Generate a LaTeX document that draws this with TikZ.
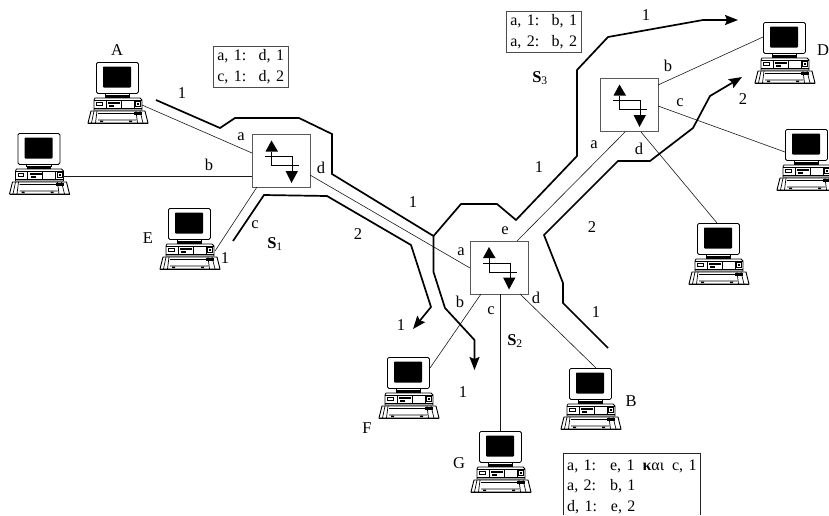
\documentclass[tikz,border=0pt]{standalone}
\usepackage{fontspec}
\setmainfont{Liberation Serif}
\usetikzlibrary{arrows.meta}
\tikzset{
  x=1pt,y=-1pt,
  lbl/.style={inner sep=0pt,font=\fontsize{16.5}{16.5}\selectfont},
  link/.style={line width=0.6pt,draw=black!90},
  route/.style={line width=1.7pt,line join=miter},
  routearrow/.style={route,-{Stealth[length=13pt,width=10pt,inset=2pt]}},
  switchbox/.style={draw=black!65,line width=0.9pt,fill=white,minimum width=58pt,minimum height=53pt,inner sep=0pt},
  tablebox/.style={draw=black!70,line width=0.7pt,inner sep=0pt,anchor=north west,align=left},
  tablefont/.style={font=\fontsize{16}{20.5}\selectfont},
  pics/computer/.style={code={
    % monitor
    \node[draw,line width=0.8pt,rounded corners=1.5pt,minimum width=42pt,minimum height=31pt,inner sep=0pt,anchor=north west] (-mon) at (0,0) {};
    \fill[rounded corners=0.8pt] (7,4.5) rectangle (35,25.5);
    % neck
    \draw[line width=0.6pt] (9,31) -- (9,33.5) -- (33.5,33.5) -- (33.5,31);
    \fill (9,34) rectangle (33.5,36);
    % base
    \draw[line width=0.8pt,fill=white] (-1,36) -- (44,36) -- (46,38) -- (46,48) -- (-2,48) -- (-2,38) -- cycle;
    \draw[line width=0.5pt] (-2,38.5) -- (46,38.5);
    \draw[line width=1pt] (-2,46.5) -- (46,46.5);
    \draw[line width=0.5pt] (10,38.5) -- (10,46.5) (25,38.5) -- (25,46.5) (38,38.5) -- (38,46.5);
    \draw[line width=0.5pt] (0.5,40.5) rectangle (6,43.5);
    \fill (12,39.8) rectangle (24,41.8);
    \fill (13,43) rectangle (18,44.5);
    \draw[line width=0.5pt] (39.5,39.5) rectangle (44.5,44.5);
    \fill (41,40.5) rectangle (43,43);
    % keyboard
    \draw[line width=0.9pt,fill=white] (-5,49) -- (49,49) -- (52,61) -- (-8,61) -- cycle;
    \draw[line width=1.6pt] (-8,61.4) -- (52,61.4);
    \draw[line width=0.7pt] (-2,49) -- (-4.5,61) (1,49) -- (-0.5,61) (2,51.5) -- (44,51.5) (2,58) -- (40,58) (44,49) -- (47,61) (40,49)--(41.5,61);
    \fill (38,49.5) rectangle (46,53);
    \fill (4,58.5) rectangle (7,60) (33,58.5) rectangle (36,60);
  }},
  pics/switchicon/.style={code={
    \fill (0,-13.5) -- (-6,-2.5) -- (6.5,-2.5) -- cycle;
    \fill (20,29) -- (14,17) -- (26.5,17) -- cycle;
    \draw[line width=0.7pt] (-6.5,2.5) -- (21,2.5) -- (21,17) (0,-2.5) -- (0,11.5) -- (27.5,11.5);
  }}
}
\begin{document}
\begin{tikzpicture}
\useasboundingbox (0,0) rectangle (829,515);
% computers
\pic (A) at (96,62) {computer};
\pic (L) at (17.5,133) {computer};
\pic (E) at (168,208) {computer};
\pic (F) at (387,357) {computer};
\pic (G) at (479,431) {computer};
\pic (B) at (569,368) {computer};
\pic (D) at (763,22) {computer};
\pic (R) at (785,129) {computer};
\pic (T) at (697,223) {computer};
% switches
\node[switchbox] (S1) at (281,160.5) {};
\node[switchbox] (S2) at (499,267.5) {};
\node[switchbox] (S3) at (629,105) {};
\pic at (271.5,154) {switchicon};
\pic at (489,260.5) {switchicon};
\pic at (619.5,98) {switchicon};
% named link ends
\coordinate (Aport) at (142,105);
\coordinate (Lport) at (63,176);
\coordinate (Eport) at (215,251);
\coordinate (Fport) at (430,368);
\coordinate (Bport) at (596,368);
\coordinate (Dport) at (763,37);
\coordinate (Rport) at (785,152);
\coordinate (Tport) at (717,223);
\coordinate (Gport) at (500,431);
\coordinate (S1a) at (252,153);
\coordinate (S1b) at (252,176);
\coordinate (S1c) at (257,187);
\coordinate (S1d) at (310,175);
\coordinate (S2a) at (470,268);
\coordinate (S2e) at (517,241);
\coordinate (S2b) at (481,294);
\coordinate (S2c) at (500,294);
\coordinate (S2d) at (520,294);
\coordinate (S3a) at (625,132);
\coordinate (S3b) at (658,85);
\coordinate (S3c) at (658,106);
\coordinate (S3d) at (641,132);
% links
\draw[link] (Aport) -- (S1a);
\draw[link] (Lport) -- (S1b);
\draw[link] (Eport) -- (S1c);
\draw[link] (S1d) -- (S2a);
\draw[link] (S2e) -- (S3a);
\draw[link] (S2b) -- (Fport);
\draw[link] (S2c) -- (Gport);
\draw[link] (S2d) -- (Bport);
\draw[link] (S3b) -- (Dport);
\draw[link] (S3c) -- (Rport);
\draw[link] (S3d) -- (Tport);
% routes
\draw[routearrow] (156,100) -- (220,128) -- (235,118) -- (299,118) -- (332,134) -- (332,174) -- (433.5,236) -- (433.5,272) -- (445,308) -- (474.5,340) -- (474.5,370);
\draw[routearrow] (433.5,236) -- (461,204) -- (497,204) -- (516,220) -- (577,156) -- (577,70) -- (608,37) -- (703,20) -- (738,20);
\draw[routearrow] (233,241) -- (264,195) -- (327,196) -- (411,245) -- (431,307) -- (413,329);
\draw[routearrow] (608,348) -- (563,303) -- (563,283) -- (544,235) -- (618,161) -- (650,161) -- (693,128) -- (710,96) -- (742,77);
% labels
\foreach \t/\px/\py/\n in {A/117/50/lA,1/182/93/l1a,a/241/137/la1,b/209/165/lb1,c/255/225/lc1,d/321/168/ld1,E/148/238/lE,1/225/258/l1b,1/413/202/l1c,2/358/234/l2a,1/401/325/l1d,a/461/252/la2,e/505/231/le2,b/460/302/lb2,c/491/311/lc2,d/536/298/ld2,1/463/392/l1e,F/367/428/lF,G/459/463/lG,B/631/401/lB,1/646/15/l1f,1/539/167/l1g,a/594/145/la3,d/639/149/ld3,b/668/66/lb3,c/680/103/lc3,2/743/99/l2b,2/592/227/l2c,D/823/50/lD,1/596/312/l1h}
  \node[lbl] (\n) at (\px,\py) {\t};
\node[lbl] (s1) at (275,244) {\textbf{S}$_{\mathrm{1}}$};
\node[lbl] (s2) at (515,341) {\textbf{S}$_{\mathrm{2}}$};
\node[lbl] (s3) at (540,78) {\textbf{S}$_{\mathrm{3}}$};
% tables
\node[tablebox,tablefont,minimum width=75pt,minimum height=41pt,text width=72pt] (t1) at (213,46) {\hspace{2.5pt}a, 1:\hspace{12.5pt}d, 1\\\hspace{2.5pt}c, 1:\hspace{12.5pt}d, 2};
\node[tablebox,tablefont,minimum width=75pt,minimum height=41pt,text width=72pt] (t3) at (506,11) {\hspace{2.5pt}a, 1:\hspace{12.5pt}b, 1\\\hspace{2.5pt}a, 2:\hspace{12.5pt}b, 2};
\draw[draw=black!85,line width=0.8pt] (563,515) -- (563,453) -- (700,453) -- (700,515);
\node[tablefont,inner sep=0pt,anchor=base west,text width=130pt,align=left] (t2) at (567,470) {a, 1:\hspace{14pt}e, 1\hspace{8pt}{\bfseries κ}αι\hspace{8pt}c, 1\\a, 2:\hspace{14pt}b, 1\\d, 1:\hspace{14pt}e, 2};
\end{tikzpicture}
\end{document}
